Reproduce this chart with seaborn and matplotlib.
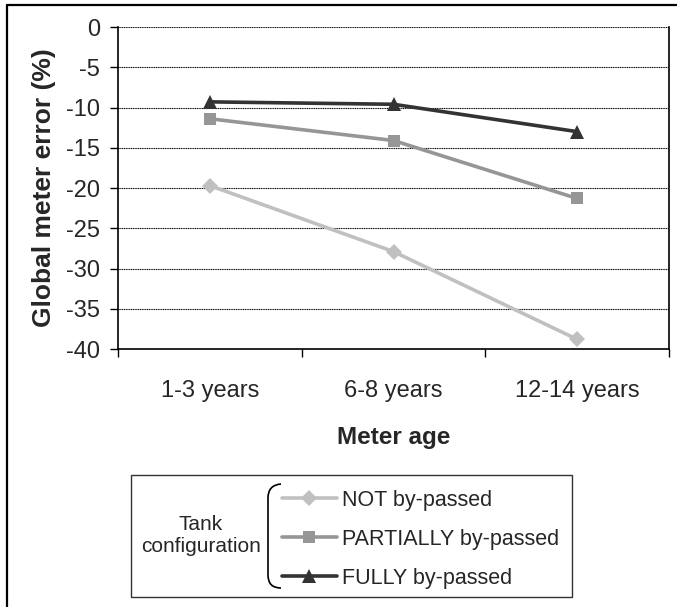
import matplotlib.pyplot as plt
import matplotlib.lines as mlines
import matplotlib.patches as mpatches
from matplotlib.path import Path
import seaborn as sns
import pandas as pd

# data
meter_age = ['1-3 years', '6-8 years', '12-14 years']
not_bypassed = [-19.7, -27.9, -38.8]
partially_bypassed = [-11.4, -14.1, -21.3]
fully_bypassed = [-9.3, -9.6, -13.0]
series_names = ['NOT by-passed', 'PARTIALLY by-passed', 'FULLY by-passed']
y_ticks = [0, -5, -10, -15, -20, -25, -30, -35, -40]

sns.set_style("white")
plt.rcParams['font.family'] = ['Liberation Sans', 'DejaVu Sans']
plt.rcParams['axes.unicode_minus'] = False

W, H = 677, 607
fig = plt.figure(figsize=(W / 100, H / 100), dpi=100)
ax = fig.add_axes([118 / W, 1 - 349 / H, 551 / W, 322 / H])

styles = [
    ('#c0c0c0', 'D', 8),
    ('#969696', 's', 8.5),
    ('#333333', '^', 10.5),
]
values = [not_bypassed, partially_bypassed, fully_bypassed]

for name, vals, (color, marker, ms) in zip(series_names, values, styles):
    df = pd.DataFrame({'age': meter_age, 'error': vals})
    sns.lineplot(data=df, x='age', y='error', ax=ax, color=color,
                 marker=marker, markersize=ms, markeredgewidth=0,
                 linewidth=2.6, label=name, sort=False)

ax.set_xlim(-0.5, 2.5)
ax.set_ylim(-40, 0)
ax.set_yticks(y_ticks)
ax.set_xticks(range(len(meter_age)))
ax.set_xticklabels(meter_age)
ax.set_xticks([-0.5, 0.5, 1.5, 2.5], minor=True)

# gridlines
ax.yaxis.grid(True, color='black', linestyle=(0, (1, 0.6)), linewidth=0.8)
ax.set_axisbelow(True)

for side in ['left', 'right', 'bottom']:
    ax.spines[side].set_visible(True)
    ax.spines[side].set_color('black')
    ax.spines[side].set_linewidth(1.2)
ax.spines['top'].set_visible(False)

ax.tick_params(axis='y', which='major', direction='out', length=5.8,
               width=1.0, color='black', pad=7, labelsize=17, left=True)
ax.tick_params(axis='x', which='major', length=0, pad=22.5, labelsize=17)
ax.tick_params(axis='x', which='minor', direction='out', length=5.8,
               width=1.0, color='black', bottom=True)

ax.set_xlabel('Meter age', fontsize=17.5, fontweight='bold')
ax.set_ylabel('Global meter error (%)', fontsize=19, fontweight='bold')
ax.xaxis.set_label_coords(0.5, -0.24)
ax.yaxis.set_label_coords(-0.112, 0.5)

# legend with side title and bracket
handles, labels = ax.get_legend_handles_labels()
ax.get_legend().remove()
fig.legend(handles, labels, loc='upper left',
           bbox_to_anchor=(282 / W, 1 - 490 / H), frameon=False,
           fontsize=15.5, handlelength=2.55, handletextpad=0.25,
           labelspacing=0.83, borderpad=0, borderaxespad=0)

box = mpatches.Rectangle((131 / W, 1 - 597 / H), (572 - 131) / W, (597 - 475) / H,
                         transform=fig.transFigure, fill=False,
                         edgecolor='#333333', linewidth=1.0)
fig.patches.append(box)
fig.text(201 / W, 1 - 536 / H, 'Tank\nconfiguration', ha='center', va='center',
         fontsize=15, linespacing=1.2)

pts = [(281, 484), (268, 485), (268, 498), (268, 575), (268, 588), (281, 588)]
codes = [Path.MOVETO, Path.CURVE3, Path.CURVE3, Path.LINETO, Path.CURVE3, Path.CURVE3]
bracket = Path([(x / W, 1 - y / H) for x, y in pts], codes)
fig.patches.append(mpatches.PathPatch(bracket, transform=fig.transFigure,
                                      fill=False, edgecolor='black', linewidth=1.2))

# outer page frame and cropped caption
fig.add_artist(mlines.Line2D([7 / W, 7 / W], [1 - 5 / H, -0.05], color='black',
                             linewidth=1.6, transform=fig.transFigure))
fig.add_artist(mlines.Line2D([7 / W, 1.05], [1 - 5 / H, 1 - 5 / H], color='black',
                             linewidth=1.6, transform=fig.transFigure))
fig.text(9 / W, 1 + 3.5 / H, 'Figure 8: Weighted global meter error depending on tank configuration',
         ha='left', va='baseline', fontsize=13, fontweight='bold',
         family=['Liberation Serif', 'DejaVu Serif'])

fig.savefig('out.png', dpi=100)
